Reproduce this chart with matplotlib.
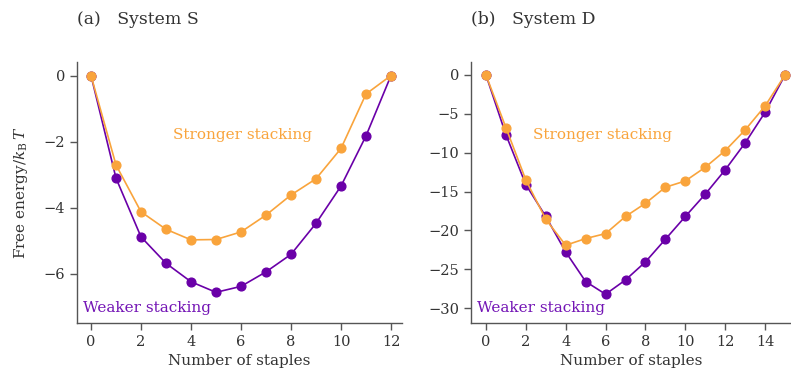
import numpy as np
import matplotlib
matplotlib.use("Agg")
import matplotlib.pyplot as plt

# 数据
staples_s = list(range(13))
stronger_s = [0, -2.71, -4.13, -4.66, -4.98, -4.97, -4.74, -4.23, -3.62, -3.13, -2.21, -0.56, 0]
weaker_s = [0, -3.11, -4.89, -5.69, -6.25, -6.57, -6.39, -5.95, -5.42, -4.48, -3.35, -1.83, 0]

staples_d = list(range(16))
stronger_d = [0, -6.77, -13.5, -18.56, -21.9, -21.04, -20.4, -18.2, -16.5, -14.44,
              -13.63, -11.87, -9.73, -7.07, -3.99, 0]
weaker_d = [0, -7.67, -14.1, -18.2, -22.76, -26.57, -28.2, -26.36, -24.04, -21.13,
            -18.2, -15.33, -12.2, -8.74, -4.8, 0]

titles = ["(a)   System S", "(b)   System D"]

ORANGE = "#f9a43c"
PURPLE = "#6a00a8"
GREY = "#333333"

plt.rcParams["font.family"] = "DejaVu Serif"
plt.rcParams["mathtext.fontset"] = "dejavuserif"

fig = plt.figure(figsize=(7.91, 3.83), dpi=100)
ax1 = fig.add_axes([77 / 791, 60 / 383, 325 / 791, 261 / 383])
ax2 = fig.add_axes([471 / 791, 60 / 383, 320 / 791, 261 / 383])

panels = [
    (ax1, staples_s, stronger_s, weaker_s, (-0.56, 12.44), (-7.5, 0.41), np.arange(0, 13, 2), [0, -2, -4, -6], 0.508),
    (ax2, staples_d, stronger_d, weaker_d, (-0.75, 15.3), (-31.9, 1.67), np.arange(0, 16, 2), [0, -5, -10, -15, -20, -25, -30], 0.41),
]

for i, (ax, x, s, w, xl, yl, xt, yt, sx) in enumerate(panels):
    ax.plot(x, w, "-o", color=PURPLE, lw=1.2, ms=6.3, zorder=3)
    ax.plot(x, s, "-o", color=ORANGE, lw=1.2, ms=6.3, zorder=4)
    ax.set_xlim(*xl)
    ax.set_ylim(*yl)
    ax.set_xticks(xt)
    ax.set_yticks(yt)
    for sp in ["top", "right"]:
        ax.spines[sp].set_visible(False)
    for sp in ["left", "bottom"]:
        ax.spines[sp].set_color("#555555")
        ax.spines[sp].set_linewidth(1.0)
    ax.tick_params(length=5, width=1, color="#555555", labelcolor=GREY, labelsize=10.5)
    ax.set_xlabel("Number of staples", fontsize=11, color=GREY, labelpad=4)
    ax.set_title(titles[i], loc="left", fontsize=12.4, color=GREY, pad=27)
    ax.text(sx, 0.72, "Stronger stacking", transform=ax.transAxes, color=ORANGE,
            fontsize=11, ha="center", va="center")
    ax.text(0.018, 0.057, "Weaker stacking", transform=ax.transAxes, color="#7314b5",
            fontsize=11, ha="left", va="center")

ax1.set_ylabel(r"Free energy/$k_\mathrm{B}\,T$", fontsize=11, color=GREY, labelpad=10)

fig.savefig("out.png", dpi=100)
